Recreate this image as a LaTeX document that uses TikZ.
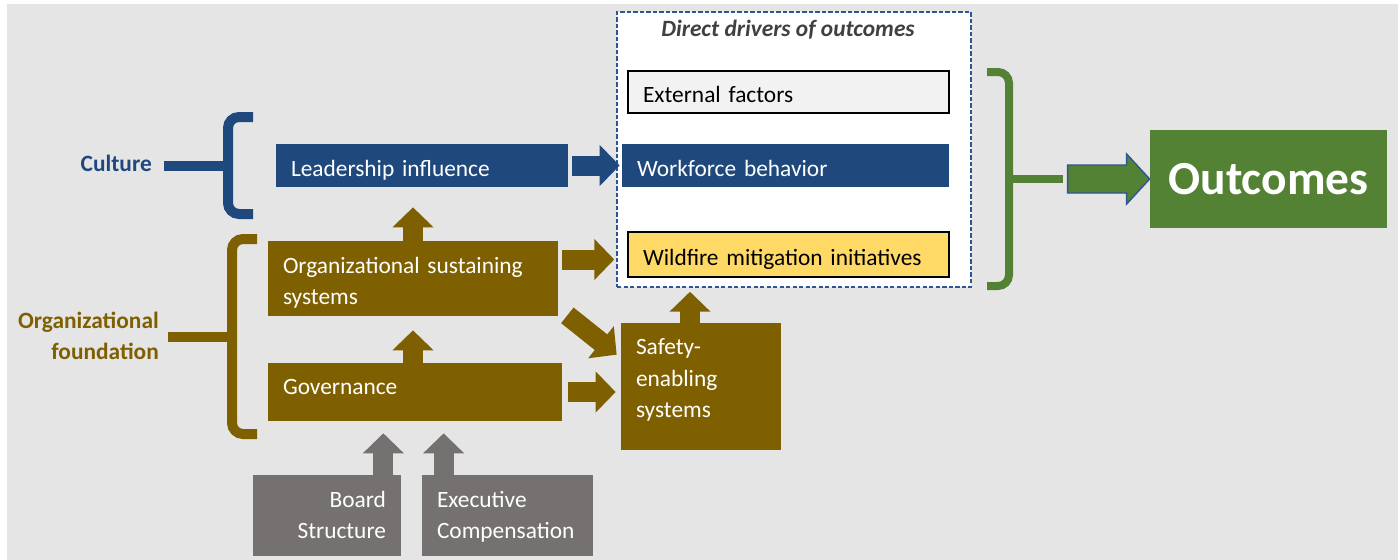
\documentclass[tikz,border=0pt]{standalone}
\usepackage{fontspec}
\setmainfont{Carlito}
\usetikzlibrary{arrows.meta, calc}
\definecolor{cblue}{HTML}{1F497D}
\definecolor{cgold}{HTML}{7F6000}
\definecolor{cgreen}{HTML}{548235}
\definecolor{cgrey}{HTML}{767171}
\definecolor{cyellow}{HTML}{FFD966}
\definecolor{clight}{HTML}{F2F2F2}
\definecolor{cdash}{HTML}{2F5597}
\definecolor{cback}{HTML}{E5E5E5}
\definecolor{ctitle}{HTML}{404040}
\tikzset{
  every picture/.style={font=\fontsize{13.3}{17.8}\selectfont},
  box/.style={fill=#1, text=white, align=left, inner xsep=0.3cm, inner ysep=0pt,
              text height=15pt, text depth=3pt},
  framed/.style={box=#1, text=black, draw=black, line width=1.1pt},
  blk/.style={-{Triangle[length=0.4cm, width=0.8cm]}, draw=#1, line width=0.4cm},
  brace/.style={draw=#1, line width=0.2cm, rounded corners=0.22cm},
  tag/.style={font=\fontsize{13.3}{17.8}\selectfont\bfseries, text=#1, align=right, anchor=east},
}

\begin{document}
\begin{tikzpicture}
  \useasboundingbox (0,0) rectangle (27.96,-11.2);
  \fill[cback] (0.14,-0.08) rectangle (27.96,-11.2);
  % culture
  \node[tag=cblue] (culture) at (3.16,-3.26) {Culture};
  \node[box=cblue, text width=5.24cm, minimum height=0.86cm] (lead) at (8.44,-3.31) {Leadership influence};
  \coordinate (cb) at (4.56,-3.32);
  \draw[brace=cblue] (5.06,-2.34) -- (4.56,-2.34) -- (4.56,-4.28) -- (5.06,-4.28);
  \draw[brace=cblue] ([xshift=0.12cm]culture.east |- cb) -- (cb);
  % organizational foundation
  \node[tag=cgold] (found) at (3.30,-6.72) {Organizational\\foundation};
  \node[box=cgold, text width=5.2cm, minimum height=1.5cm, text depth=21.2pt] (orgsus) at (8.26,-5.57) {Organizational sustaining\\systems};
  \node[box=cgold, text width=5.28cm, minimum height=1.16cm, text depth=11.6pt] (gov) at (8.30,-7.84) {Governance};
  \node[box=cgold, text width=2.6cm, minimum height=2.54cm, text depth=51pt] (safety) at (14.02,-7.73) {Safety-\\enabling\\systems};
  \coordinate (fb) at (4.64,-6.74);
  \draw[brace=cgold] (5.14,-4.78) -- (4.64,-4.78) -- (4.64,-8.68) -- (5.14,-8.68);
  \draw[brace=cgold] ([xshift=0.06cm]found.east |- fb) -- (fb);
  % board and pay
  \node[box=cgrey, text width=2.36cm, minimum height=1.62cm, text depth=24.6pt, align=right] (board) at (6.54,-10.31) {Board\\Structure};
  \node[box=cgrey, text width=2.82cm, minimum height=1.62cm, text depth=24.6pt] (exec) at (10.15,-10.31) {Executive\\Compensation};
  % direct drivers
  \node[draw=cdash, fill=white, line width=0.85pt, dash pattern=on 2.5pt off 1.2pt,
        minimum width=7.08cm, minimum height=5.5cm, inner sep=0pt] (drivers) at (15.88,-2.99) {};
  \node[font=\fontsize{13.3}{17.8}\selectfont\bfseries\itshape, text=ctitle] (dtitle) at (15.76,-0.6) {Direct drivers of outcomes};
  \node[framed=clight, text width=5.82cm, minimum height=0.84cm] (ext) at (15.77,-1.84) {External factors};
  \node[box=cblue, text width=5.94cm, minimum height=0.86cm] (work) at (15.71,-3.31) {Workforce behavior};
  \node[framed=cyellow, text width=5.82cm, minimum height=0.9cm] (wild) at (15.77,-5.09) {\mbox{Wildfire mitigation initiatives}};
  % outcomes
  \node[box=cgreen, minimum width=4.74cm, minimum height=1.96cm, align=center, inner xsep=0pt,
        text height=17.4pt, text depth=0pt, font=\fontsize{27}{32}\selectfont\bfseries] (outc) at (25.37,-3.58) {Outcomes};
  \coordinate (gb) at (20.18,-3.58);
  \draw[brace=cgreen, line width=0.16cm] (19.74,-1.44) -- (20.18,-1.44) -- (20.18,-5.72) -- (19.74,-5.72);
  \draw[brace=cgreen, line width=0.16cm] (gb) -- ($(outc.west)+(-1.74,0)$);
  \draw[draw=cdash, fill=cgreen, line width=0.8pt] (outc.west) -- ++(-0.46,0.5) -- ++(0,-0.22) -- ++(-1.18,0)
    -- ++(0,-0.56) -- ++(1.18,0) -- ++(0,-0.22) -- cycle;
  % block arrows
  \draw[blk=cblue] ([xshift=0.08cm]lead.east) -- ([xshift=-0.04cm]work.west);
  \draw[blk=cgold] (orgsus.north) -- ($(orgsus.north |- lead.south)+(0,-0.4)$);
  \draw[blk=cgold] (gov.north -| orgsus.south) -- ($(orgsus.south)+(0,-0.28)$);
  \draw[blk=cgold] ($(orgsus.east |- wild.west)+(0.08,-0.1)$) -- ($(drivers.west |- wild.west)+(-0.04,-0.1)$);
  \draw[blk=cgold] ($(orgsus.south east)+(0.18,0.02)$) -- ($(safety.north west)+(-0.08,-0.64)$);
  \draw[blk=cgold] ([xshift=0.12cm]gov.east) -- ($(safety.west |- gov.east)+(-0.1,0)$);
  \draw[blk=cgold] ($(safety.north)+(-0.22,0)$) -- ($(safety.north |- drivers.south)+(-0.22,-0.08)$);
  \foreach \b/\dx in {board.north east/-0.36, exec.north west/0.44} {
    \draw[blk=cgrey] ($(\b)+(\dx,0)$) -- ($(\b |- gov.south)+(\dx,-0.24)$);
  }
\end{tikzpicture}
\end{document}
